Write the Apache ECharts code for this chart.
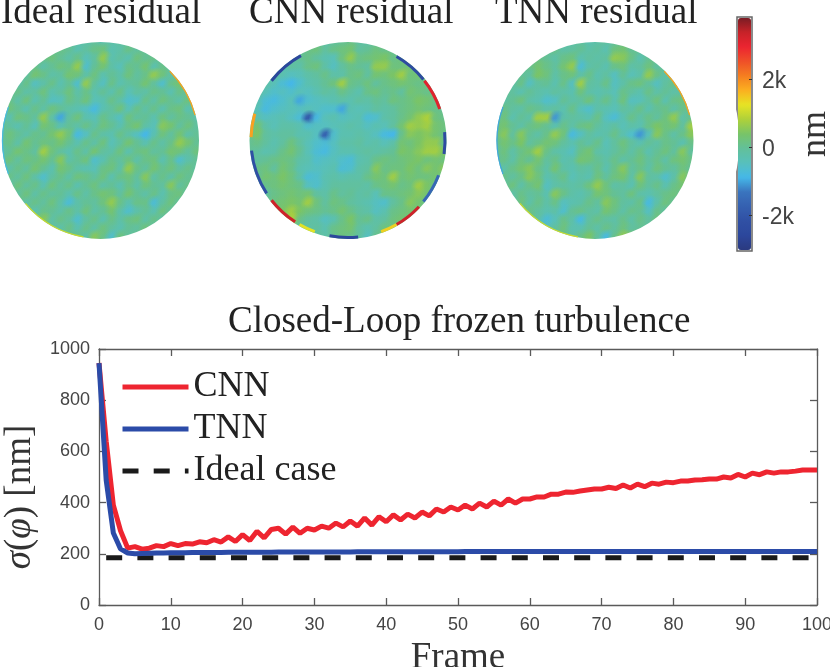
<!DOCTYPE html>
<html>
<head>
<meta charset="utf-8">
<title>Closed-Loop frozen turbulence</title>
<script src="https://cdn.jsdelivr.net/npm/echarts@6/dist/echarts.min.js"></script>
<style>
html, body { margin: 0; padding: 0; background: #fff; }
#chart { width: 830px; height: 667px; }
</style>
</head>
<body>
<div id="chart"></div>
<script>
// residual maps, values in units of 100 nm
var idealCells = [
[0,0,0,0,0,0,0,0,-1,-2,-2,-1,-3,-2,-1,0,0,0,0,0,0,0,0,0],
[0,0,0,0,0,0,-1,1,0,-3,-1,1,2,-3,-2,1,-1,0,0,0,0,0,0,0],
[0,0,0,0,-1,1,2,0,-2,1,-4,-1,6,-3,-1,-3,2,0,1,0,0,0,0,0],
[0,0,0,-1,1,-2,0,2,1,6,-6,0,3,-2,-4,1,0,3,-3,1,-1,0,0,0],
[0,0,-2,-1,3,1,-2,-1,3,2,-2,2,-3,0,-2,2,-1,1,6,2,-2,0,0,0],
[0,0,-3,1,-5,-2,1,-3,0,-6,6,-1,-5,1,-3,-1,0,3,-1,-6,1,3,0,0],
[0,-1,1,-2,-1,2,-3,-1,2,-2,1,-3,0,-3,1,-4,-1,-2,1,0,-3,1,-1,0],
[0,1,-2,2,-3,0,-5,-4,1,-1,2,-4,-3,1,-2,-6,-5,1,-2,2,0,-2,2,0],
[-1,2,0,-3,1,-2,2,0,-2,-3,-5,-8,-3,-1,2,-4,1,-2,1,-3,1,2,-3,0],
[0,-3,2,1,-1,6,-2,-10,-1,2,-3,-4,1,-2,-5,2,-1,0,-3,2,-1,1,0,-2],
[1,-1,-3,0,-4,3,1,-3,0,-2,1,-2,2,0,-3,1,3,-2,-4,5,3,-1,2,-1],
[-1,2,0,-2,1,0,3,6,2,-8,-5,1,-2,-3,1,-2,-5,-9,-3,2,-1,3,-2,0],
[0,1,-2,3,0,2,1,3,0,-3,1,-2,2,-4,-1,3,0,-3,1,-2,1,6,3,0],
[-2,0,3,1,-1,7,2,-1,-3,1,-2,3,-1,-2,2,-3,1,2,-1,0,3,2,-1,2],
[0,2,-1,2,1,3,0,5,-2,0,2,-6,-3,1,-1,2,-2,1,2,-3,1,-6,-2,0],
[1,-2,1,-1,3,0,-3,3,1,-2,-3,-4,1,2,-2,6,1,-1,3,0,2,-1,1,-1],
[0,1,-1,2,-2,-6,-1,1,-2,2,1,-1,2,-3,1,2,-1,5,-2,1,-2,2,0,1],
[0,-2,2,-1,1,-3,2,-1,1,-3,0,2,-2,0,-3,1,-2,2,0,-1,5,-1,1,0],
[0,1,-1,2,-2,1,-1,0,-3,1,-2,1,3,2,-1,3,0,-2,1,-3,1,2,-2,0],
[0,0,2,-2,1,-1,2,-2,-7,-2,0,-1,2,6,1,-3,1,1,-7,-1,2,-1,0,0],
[0,0,-1,1,-3,1,0,-2,1,-2,2,-2,0,3,-2,-6,-2,0,-3,2,-1,1,0,0],
[0,0,0,-2,3,5,-2,1,-1,-6,-1,1,-3,1,-2,1,2,-2,1,-2,1,0,0,0],
[0,0,0,0,1,2,-1,-2,1,-3,1,-2,2,-1,-3,0,-1,2,-2,0,0,0,0,0],
[0,0,0,0,0,0,1,-1,0,1,-2,5,1,-6,2,-1,1,0,0,0,0,0,0,0]
];
var cnnCells = [
[0,0,0,0,0,0,0,0,-1,-2,-1,0,1,-1,-2,-1,0,0,0,0,0,0,0,0],
[0,0,0,0,0,0,0,1,2,-1,1,2,3,-1,0,2,1,0,0,0,0,0,0,0],
[0,0,0,0,0,-2,0,1,-1,-3,-4,2,6,1,2,3,4,1,2,0,0,0,0,0],
[0,0,0,0,-4,-1,-2,1,2,-2,-5,-1,1,0,-1,6,6,2,2,3,0,0,0,0],
[0,0,0,-2,-3,-5,-4,-2,-1,1,-2,-2,1,2,-1,3,2,4,7,2,3,0,0,0],
[0,0,-2,-4,-7,-9,-6,-3,-2,0,2,7,1,0,2,-1,1,2,3,2,1,2,0,0],
[0,-1,-4,-6,-5,-6,-4,-5,-3,-1,-2,1,-1,-3,1,2,0,1,-1,3,2,1,1,0],
[0,-3,-7,-8,-6,-4,-10,-6,-5,-4,-3,-2,-3,-1,-2,0,-1,2,1,2,4,3,1,0],
[-1,-4,-8,-6,-5,-4,-5,-4,-5,-6,-6,-10,-3,-4,-3,-1,-2,-1,1,2,3,2,1,0],
[-2,-3,-5,-4,-3,-5,-7,-20,-8,-4,-3,-5,-4,-3,-7,-6,-2,-1,1,3,6,8,2,1],
[-1,3,-2,-4,-2,-2,-3,-6,-5,-5,-4,-3,-2,-3,-5,-3,-4,-1,3,7,6,7,3,2],
[1,4,-1,-2,-1,-1,-3,-3,-5,-18,-6,-3,-3,-2,-3,-5,-8,-9,1,5,4,5,3,1],
[0,1,-1,-3,-1,2,-1,-4,-6,-7,-5,-2,-2,-1,-3,-2,-4,-2,3,2,4,6,6,1],
[0,-1,-3,-2,1,3,0,-4,-7,-8,-5,-3,-3,-2,-1,-2,-1,0,4,3,5,7,7,4],
[0,-1,0,1,2,1,-2,-3,-6,-5,-4,-6,-7,-3,-2,1,2,1,2,3,4,2,3,2],
[0,1,2,-1,3,1,-3,-4,-5,-4,-3,-7,-6,-2,-1,5,1,2,2,4,2,5,3,5],
[0,0,3,2,4,2,-2,-7,-6,-3,-2,-3,-2,-2,1,3,2,7,2,3,2,2,3,0],
[0,0,1,2,3,2,1,-5,-6,-3,-1,-1,-1,-1,-2,1,2,3,1,2,7,4,1,0],
[0,0,-1,1,2,3,2,3,-1,-2,1,-1,0,-2,-1,-4,1,1,2,3,5,3,0,0],
[0,0,0,2,3,4,3,7,2,-1,2,1,-1,-2,-3,-5,-6,-1,1,5,3,1,0,0],
[0,0,0,1,4,7,4,2,1,0,1,3,1,-1,-2,-5,-3,1,2,3,2,0,0,0],
[0,0,0,0,2,8,1,-1,-2,-5,-3,1,4,0,1,-2,-1,2,3,1,0,0,0,0],
[0,0,0,0,0,1,-1,-2,-1,-3,1,2,3,-1,-3,-1,2,1,0,0,0,0,0,0],
[0,0,0,0,0,0,0,1,-1,-2,1,2,1,-1,-5,1,2,0,0,0,0,0,0,0]
];
var tnnCells = [
[0,0,0,0,0,0,0,0,-1,-2,-1,-3,-2,-1,-1,0,0,0,0,0,0,0,0,0],
[0,0,0,0,0,0,-1,1,-2,-1,0,-2,-1,-3,2,3,0,0,0,0,0,0,0,0],
[0,0,0,0,-2,1,0,-2,1,2,-3,-1,-2,-1,6,5,1,-3,0,0,0,0,0,0],
[0,0,0,-1,1,3,1,-1,3,6,-7,-2,-1,-3,1,2,-2,-1,2,-1,0,0,0,0],
[0,0,-2,0,-1,4,2,-2,1,2,-2,1,-3,-1,-5,0,-4,-2,6,1,-2,0,0,0],
[0,-1,-2,1,-5,-1,0,-3,1,-5,7,-1,-2,1,-5,-2,1,2,-1,-5,-1,1,0,0],
[0,1,-1,-3,0,-2,-3,-1,-2,-3,2,-2,-3,-2,-4,1,-1,-3,1,-2,0,-2,-1,0],
[0,-2,0,2,-2,-3,-6,-5,0,-2,-1,2,-2,1,-3,2,-5,-4,-1,2,-3,1,2,0],
[-1,1,-1,-2,1,0,-2,-1,-3,1,-4,-6,-2,-3,-4,-1,-2,1,-3,0,1,-2,1,0],
[-1,2,-3,0,-2,7,7,-11,-2,-1,-2,-3,1,-5,-7,-3,1,-2,1,-1,2,6,-2,1],
[2,3,0,-2,1,2,0,-3,1,-2,1,2,-1,-3,-1,-4,-2,-3,1,4,2,3,-1,7],
[1,5,-1,5,0,-2,1,6,2,-8,-5,-1,-3,-2,1,-3,-6,-11,-4,5,1,-2,1,5],
[0,3,1,4,-1,1,3,2,-1,-3,0,-2,1,-4,-1,2,-1,-3,0,-2,1,0,-3,1],
[-1,2,-2,1,3,7,1,-2,-3,-5,1,3,-2,-3,-1,1,-2,1,-3,0,2,-1,5,-1],
[0,1,-2,2,0,3,-1,1,-3,-2,3,2,0,-2,1,-2,0,2,-1,1,-2,2,3,1],
[0,-2,1,3,5,1,-2,3,-2,-3,-1,-2,1,-3,1,5,-1,1,-2,2,0,-1,2,0],
[0,1,-1,1,5,2,-3,-1,1,-4,-2,-3,2,-1,2,3,-2,5,-1,-2,-6,-2,5,0],
[0,-1,2,-2,1,3,-5,-2,-1,-2,-1,2,6,2,-2,-1,-3,2,-1,1,-3,1,3,0],
[0,1,-2,1,-1,0,-3,5,1,-2,-3,-1,3,2,0,-1,2,-2,-3,-1,1,2,0,0],
[0,0,-1,2,-2,1,-2,1,-5,-3,-2,1,-1,5,2,-1,-2,1,-8,-2,2,0,0,0],
[0,0,-2,1,1,-1,-3,-2,-6,0,1,-1,-2,3,1,-2,1,0,-5,1,-1,0,0,0],
[0,0,0,-1,2,-2,-7,-4,1,-2,-8,-1,1,-1,-2,1,-2,1,-1,2,0,0,0,0],
[0,0,0,0,1,-2,-4,-1,2,-3,-3,0,-2,1,-1,2,-1,0,-1,0,0,0,0,0],
[0,0,0,0,0,0,1,-1,1,-2,1,4,-1,-8,1,6,3,0,0,0,0,0,0,0]
];

// edge of each aperture: [from degree, to degree, value], clockwise from east
var idealRim = [[315,345,18],[160,200,-8],[100,140,10]];
var cnnRim = [[218,241,-26],[300,321,-24],[322,341,31],[355,368,-24],[381,399,-16],[403,420,33],[420,430,14],[444,461,-26],[470,480,12],[483,502,33],[507,534,-22],[542,556,18]];
var tnnRim = [[315,345,18],[160,200,-10],[100,140,10]];

var titles = ['Ideal residual', 'CNN residual', 'TNN residual'];
var titleLefts = [-4, 244, 490];

// colour bar, same units
var colorMin = -30.3;
var colorMax = 38;
var colorTicks = [-20, 0, 20];
var colorStops = ['#2b3a80', '#2c479c', '#3050a4', '#3560b0', '#3a74be', '#45b8e8', '#57c0bc', '#62c09a', '#78c468',
    '#aed03a', '#e6e424', '#fbb020', '#f57f20', '#ef5028', '#ec2431', '#c82228', '#7a1c24'];

// closed loop curves, one value per frame from 0 to 100
var cnnValues = [945,640,390,290,222,228,218,222,232,228,240,232,240,238,247,243,255,246,266,248,275,252,288,262,295,
    300,277,304,280,300,293,308,300,320,305,328,308,340,312,345,325,352,332,355,340,363,348,375,363,383,371,390,375,398,
    383,406,390,414,398,414,414,422,422,433,433,441,440,445,449,453,453,460,455,469,457,472,462,476,472,480,478,484,484,
    488,489,492,492,500,496,510,500,515,509,520,515,520,520,523,527,527,527];
var tnnValues = [945,488,281,219,203,200,201,202,203,203,204,204,204,205,205,205,205,205,206,206,206,206,206,206,206,
    207,207,207,207,207,207,207,207,207,207,207,208,208,208,208,208,208,208,208,208,208,208,208,208,208,208,209,209,209,
    209,209,209,209,209,209,209,209,209,209,209,209,209,209,209,209,209,209,209,209,209,209,209,209,209,209,209,209,209,
    209,209,209,209,209,209,209,209,209,209,209,209,209,209,209,209,209,209];
var idealFrames = [1, 100];
var idealValues = [185, 185];

var cellCount = 24;
var cellSize = 8.5;
var discCenters = [100.5, 348, 595];
var discMiddle = 140.5;
var discRadius = 98.5;
var serif = '"Liberation Serif", serif';
var sans = '"Liberation Sans", sans-serif';
var axisGrey = '#5a5a5a';
var labelGrey = '#444';

function toXY(list) {
    return list.map(function (v, i) { return [i, v]; });
}

// leave out the far corners, nothing of them shows in the aperture
function heatCells(rows) {
    var out = [];
    var mid = (cellCount - 1) / 2;
    rows.forEach(function (row, r) {
        row.forEach(function (v, c) {
            if (Math.sqrt((c - mid) * (c - mid) + (r - mid) * (r - mid)) < 13.2) {
                out.push([c, r, v]);
            }
        });
    });
    return out;
}

function discCenter(api) {
    var p = api.coord([cellCount / 2 - 1, cellCount / 2 - 1]);
    var s = api.size([1, 1]);
    return { x: p[0] + s[0] / 2, y: p[1] + s[1] / 2 };
}

// soft spot over each cell so the map reads as a smooth field, not as squares
function renderSoftCell(params, api) {
    var p = api.coord([api.value(0), api.value(1)]);
    var s = api.size([1, 1]);
    var c = api.visual('color');
    return {
        type: 'circle',
        shape: { cx: p[0], cy: p[1], r: s[0] * 1.15 },
        style: {
            fill: {
                type: 'radial', x: 0.5, y: 0.5, r: 0.5,
                colorStops: [
                    { offset: 0, color: c },
                    { offset: 0.4, color: echarts.color.modifyAlpha(c, 0.85) },
                    { offset: 1, color: echarts.color.modifyAlpha(c, 0) }
                ]
            }
        },
        silent: true
    };
}

// white ring hides the square steps of the map round the edge
function renderMask(params, api) {
    var c = discCenter(api);
    return {
        type: 'circle',
        shape: { cx: c.x, cy: c.y, r: discRadius + 23 },
        style: { fill: 'none', stroke: '#fff', lineWidth: 46 },
        silent: true
    };
}

function renderRim(params, api) {
    var c = discCenter(api);
    var wide = api.value(3);
    return {
        type: 'arc',
        shape: {
            cx: c.x, cy: c.y, r: discRadius - wide / 2,
            startAngle: api.value(0) * Math.PI / 180,
            endAngle: api.value(1) * Math.PI / 180,
            clockwise: true
        },
        style: { fill: 'none', stroke: api.visual('color'), lineWidth: wide },
        silent: true
    };
}

var cellLabels = [];
for (var n = 0; n < cellCount; n++) {
    cellLabels.push(n);
}

var option = {
    animation: false,
    backgroundColor: '#fff',
    textStyle: { fontFamily: sans },
    title: [],
    grid: [],
    xAxis: [],
    yAxis: [],
    series: [],
    visualMap: {
        type: 'continuous',
        min: colorMin,
        max: colorMax,
        dimension: 2,
        seriesIndex: [0, 1, 3, 4, 5, 7, 8, 9, 11],
        left: 738,
        top: 18,
        itemWidth: 13,
        itemHeight: 232,
        padding: 0,
        text: null,
        calculable: false,
        hoverLink: false,
        showLabel: false,
        inRange: { color: colorStops }
    },
    legend: {
        orient: 'vertical',
        left: 120,
        top: 367,
        padding: 0,
        itemWidth: 66,
        itemHeight: 14,
        itemGap: 2,
        selectedMode: false,
        data: ['CNN', 'TNN', 'Ideal case'],
        itemStyle: { opacity: 0 },
        lineStyle: { width: 5 },
        textStyle: { fontFamily: serif, fontSize: 36, color: '#222', lineHeight: 40 }
    }
};

[idealCells, cnnCells, tnnCells].forEach(function (cells, i) {
    var rim = [idealRim, cnnRim, tnnRim][i];
    var rimWide = i === 1 ? 3 : 1.2;
    var side = cellSize * cellCount;
    var cellData = heatCells(cells);
    option.title.push({
        text: titles[i],
        left: titleLefts[i],
        top: -10,
        textStyle: { fontFamily: serif, fontSize: 37, fontWeight: 'normal', color: '#222' }
    });
    option.grid.push({
        left: discCenters[i] - side / 2,
        top: discMiddle - side / 2,
        width: side,
        height: side,
        outerBoundsMode: 'none'
    });
    option.xAxis.push({ type: 'category', gridIndex: i, data: cellLabels, show: false });
    option.yAxis.push({ type: 'category', gridIndex: i, data: cellLabels, inverse: true, show: false });
    option.series.push({
        type: 'heatmap',
        xAxisIndex: i,
        yAxisIndex: i,
        data: cellData,
        silent: true,
        progressive: 0,
        z: 2
    }, {
        type: 'custom',
        xAxisIndex: i,
        yAxisIndex: i,
        data: cellData,
        encode: { x: 0, y: 1 },
        renderItem: renderSoftCell,
        progressive: 0,
        silent: true,
        z: 2
    }, {
        type: 'custom',
        xAxisIndex: i,
        yAxisIndex: i,
        data: [[0, 0]],
        renderItem: renderMask,
        silent: true,
        z: 3
    }, {
        type: 'custom',
        xAxisIndex: i,
        yAxisIndex: i,
        data: rim.map(function (d) { return [d[0], d[1], d[2], rimWide]; }),
        dimensions: ['from', 'to', 'value', 'wide'],
        encode: { x: 'from', y: 'to' },
        renderItem: renderRim,
        silent: true,
        z: 4
    });
});

// colour bar frame and its ticks
option.grid.push({ left: 737, top: 17, width: 15, height: 234, show: true, borderColor: '#666', borderWidth: 1.5, outerBoundsMode: 'none' });
option.xAxis.push({ type: 'value', gridIndex: 3, show: false, min: 0, max: 1 });
option.yAxis.push({
    type: 'value',
    gridIndex: 3,
    position: 'right',
    min: -30.6,
    max: 38.3,
    splitLine: { show: false },
    axisLine: { show: false, onZero: false },
    axisTick: { inside: true, length: 3, customValues: colorTicks, lineStyle: { color: '#333' } },
    axisLabel: {
        customValues: colorTicks,
        margin: 10,
        formatter: function (v) { return '{a|' + (v === 0 ? '0' : (v / 10) + 'k') + '}'; },
        rich: { a: { fontSize: 23, color: labelGrey, padding: [6, 0, 0, 0] } }
    },
    name: 'nm',
    nameLocation: 'middle',
    nameRotate: 90,
    nameGap: 46,
    nameTextStyle: { fontFamily: serif, fontSize: 36, color: '#333' },
    z: 10
});

// closed loop plot
option.title.push({
    text: 'Closed-Loop frozen turbulence',
    left: 223,
    top: 299,
    textStyle: { fontFamily: serif, fontSize: 37, fontWeight: 'normal', color: '#222' }
});
option.grid.push({ left: 99, top: 349, width: 718, height: 256, outerBoundsMode: 'none' });
var mirrorLine = { show: true, onZero: false, lineStyle: { color: axisGrey, width: 1.3 } };
var tickStyle = { inside: true, length: 7, lineStyle: { color: axisGrey, width: 1.3 } };
option.xAxis.push({
    type: 'value',
    gridIndex: 4,
    min: 0,
    max: 100,
    interval: 10,
    splitLine: { show: false },
    axisLine: mirrorLine,
    axisTick: tickStyle,
    axisLabel: { fontSize: 18, color: labelGrey, margin: 11, hideOverlap: false },
    name: 'Frame',
    nameLocation: 'middle',
    nameGap: 35,
    nameTextStyle: { fontFamily: serif, fontSize: 37, color: '#333' }
}, {
    type: 'value',
    gridIndex: 4,
    position: 'top',
    min: 0,
    max: 100,
    interval: 10,
    splitLine: { show: false },
    axisLine: mirrorLine,
    axisTick: tickStyle,
    axisLabel: { show: false }
});
option.yAxis.push({
    type: 'value',
    gridIndex: 4,
    min: 0,
    max: 1000,
    interval: 200,
    splitLine: { show: false },
    axisLine: mirrorLine,
    axisTick: tickStyle,
    axisLabel: { fontSize: 18, color: labelGrey, margin: 9, formatter: function (v) { return String(v); } },
    name: '{i|σ}({i|φ}) [nm]',
    nameLocation: 'middle',
    nameRotate: 90,
    nameGap: 56,
    nameTextStyle: {
        fontFamily: serif,
        fontSize: 37,
        color: '#333',
        padding: [0, 40, 0, 0],
        rich: { i: { fontFamily: serif, fontSize: 37, fontStyle: 'italic', color: '#333' } }
    }
}, {
    type: 'value',
    gridIndex: 4,
    position: 'right',
    min: 0,
    max: 1000,
    interval: 200,
    splitLine: { show: false },
    axisLine: mirrorLine,
    axisTick: tickStyle,
    axisLabel: { show: false }
});
option.series.push({
    name: 'CNN',
    type: 'line',
    xAxisIndex: 4,
    yAxisIndex: 4,
    data: toXY(cnnValues),
    symbol: 'none',
    silent: true,
    clip: false,
    lineStyle: { color: '#ee2530', width: 5 },
    itemStyle: { color: '#ee2530' },
    z: 3
}, {
    name: 'TNN',
    type: 'line',
    xAxisIndex: 4,
    yAxisIndex: 4,
    data: toXY(tnnValues),
    symbol: 'none',
    silent: true,
    clip: false,
    lineStyle: { color: '#2b4ba8', width: 5 },
    itemStyle: { color: '#2b4ba8' },
    z: 4
}, {
    name: 'Ideal case',
    type: 'line',
    xAxisIndex: 4,
    yAxisIndex: 4,
    data: idealFrames.map(function (f, i) { return [f, idealValues[i]]; }),
    symbol: 'none',
    silent: true,
    lineStyle: { color: '#1a1a1a', width: 5, type: [16, 15.2] },
    itemStyle: { color: '#1a1a1a' },
    z: 2
});

var chart = echarts.init(document.getElementById('chart'), null, { renderer: 'canvas' });
chart.setOption(option);
</script>
</body>
</html>
